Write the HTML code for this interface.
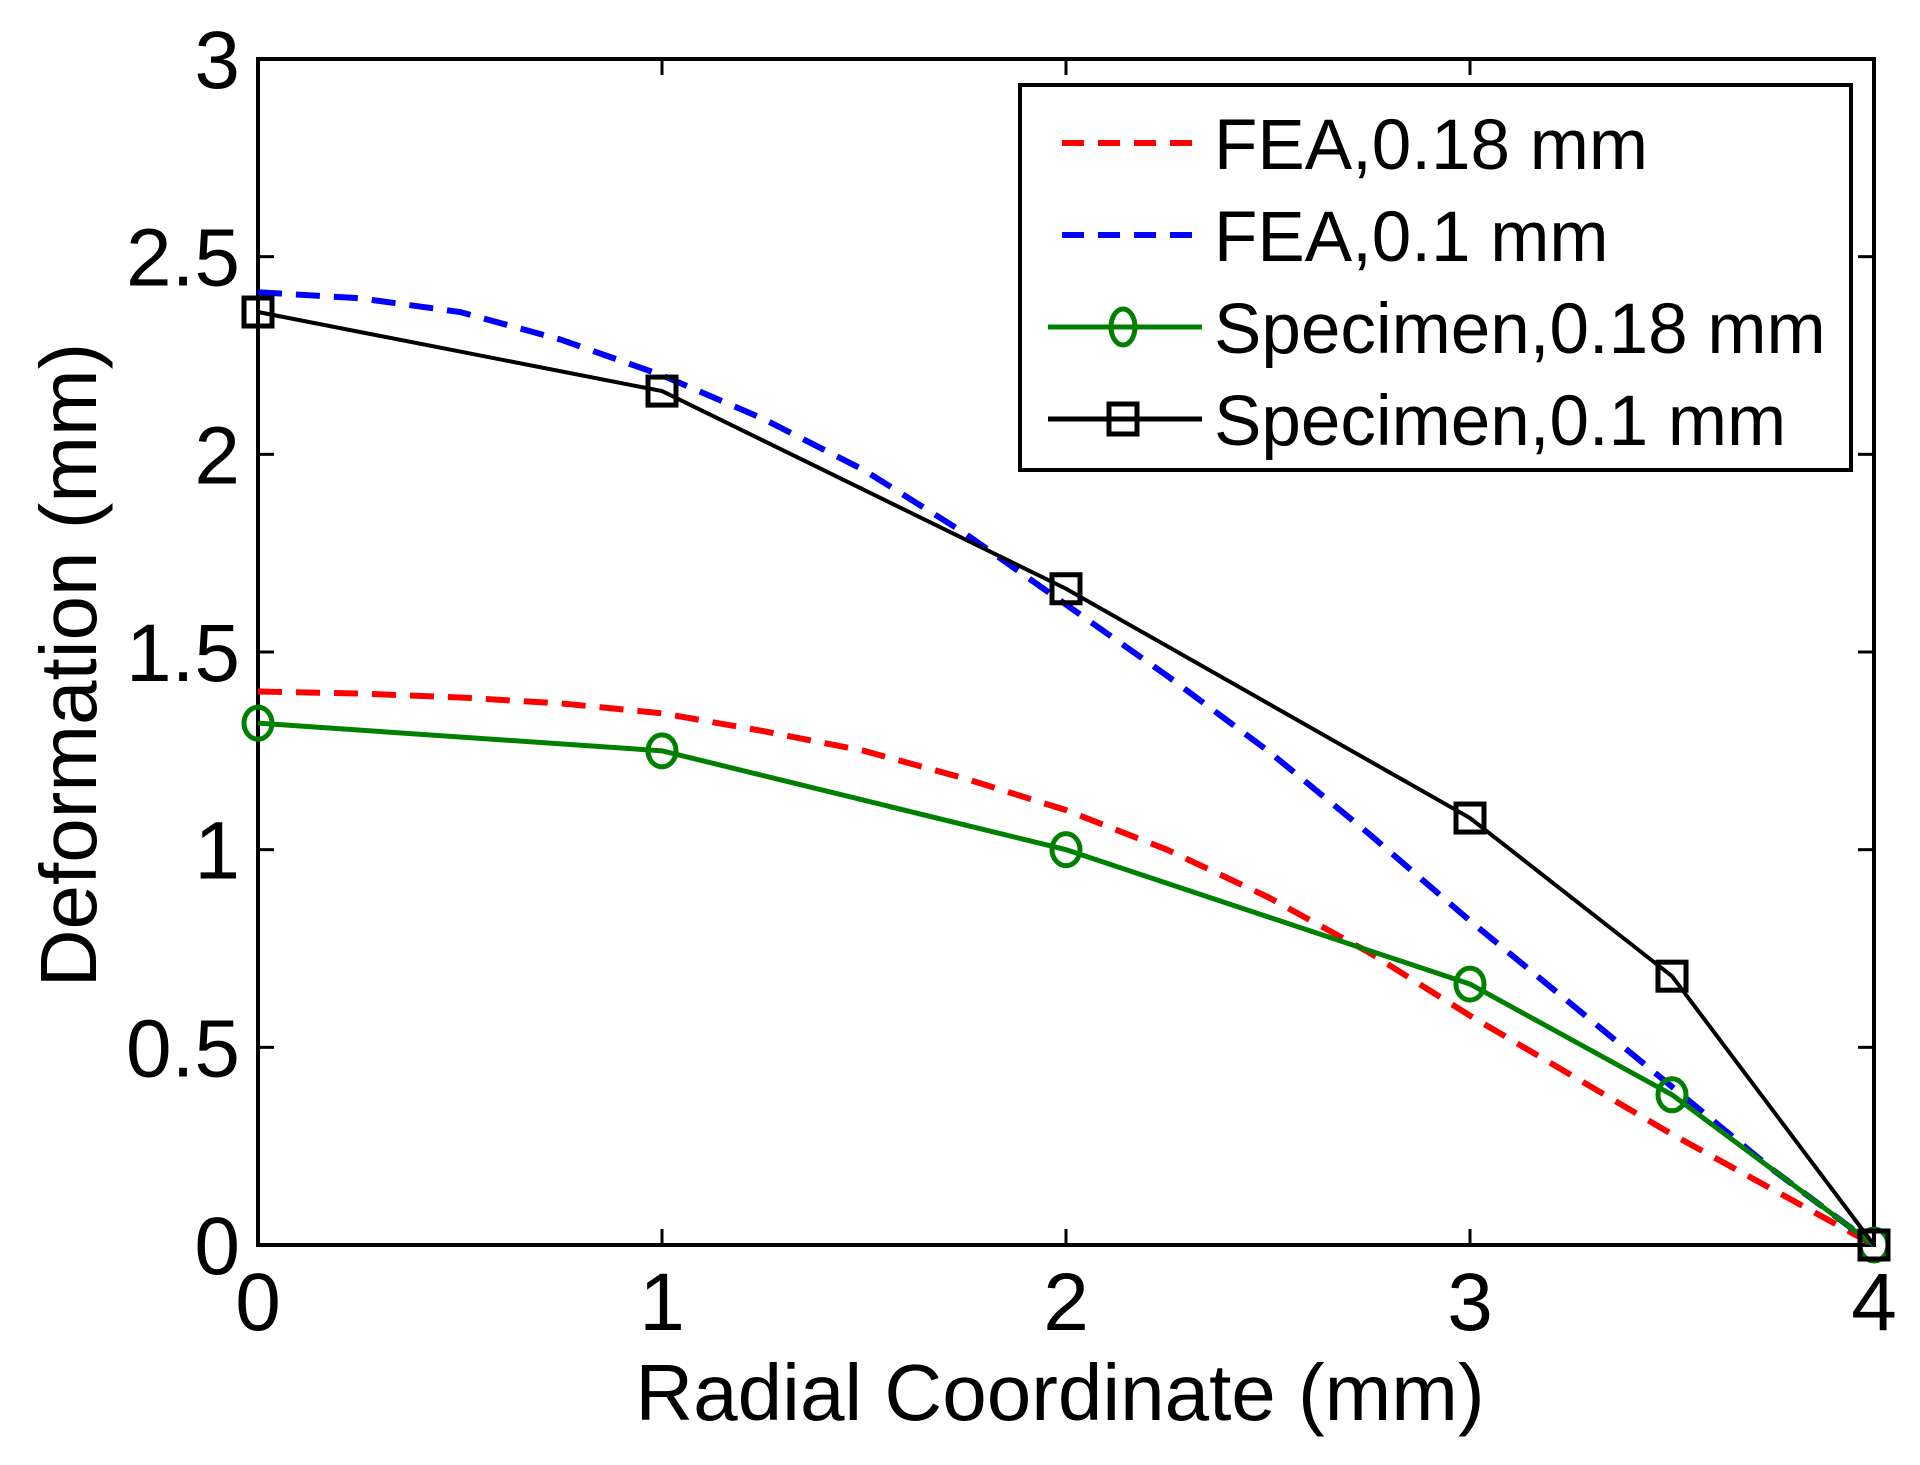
<!DOCTYPE html>
<html><head><meta charset="utf-8"><style>
html,body{margin:0;padding:0;background:#fff;}
svg text{font-family:"Liberation Sans",Arial,sans-serif;fill:#000;}
</style></head><body>
<svg id="chart" width="1920" height="1460" viewBox="0 0 1920 1460" xmlns="http://www.w3.org/2000/svg">
<rect width="1920" height="1460" fill="#fff"/>
<g id="axes"></g>
<g id="series"></g>
<g id="legend"></g>
<text transform="translate(96,665) rotate(-90)" font-size="80" text-anchor="middle">Deformation (mm)</text>
<text x="1060" y="1420" font-size="80" text-anchor="middle">Radial Coordinate (mm)</text>
</svg>
<script>
const xTicks=[0,1,2,3,4];
const yTicks=[0,0.5,1,1.5,2,2.5,3];
const yTickLabels=["0","0.5","1","1.5","2","2.5","3"];
const specX=[0,1,2,3,3.5,4];
const spec01=[2.36,2.16,1.66,1.08,0.68,0];
const spec018=[1.32,1.25,1.0,0.66,0.38,0];
const feaX=[0,0.25,0.5,0.75,1,1.25,1.5,1.75,2,2.25,2.5,2.75,3,3.25,3.5,3.75,4];
const fea01=[2.41,2.395,2.36,2.29,2.2,2.09,1.96,1.80,1.62,1.44,1.25,1.04,0.82,0.61,0.40,0.19,0];
const fea018=[1.40,1.395,1.385,1.37,1.345,1.30,1.25,1.18,1.10,1.00,0.88,0.74,0.58,0.43,0.28,0.14,0];
const L=258,R=1874,T=59,B=1245;
const sx=v=>L+(v-0)/(4-0)*(R-L);
const sy=v=>B-(v-0)/(3-0)*(B-T);
const NS="http://www.w3.org/2000/svg";
function mk(tag,attrs,parent){const e=document.createElementNS(NS,tag);for(const k in attrs)e.setAttribute(k,attrs[k]);parent.appendChild(e);return e;}
const axes=document.getElementById('axes');
const frame=mk('rect',{x:L,y:T,width:R-L,height:B-T,fill:'none',stroke:'#000','stroke-width':4},axes);


xTicks.forEach(v=>{
  const x=sx(v);
  const t1=mk('line',{x1:x,y1:B,x2:x,y2:B-16,stroke:'#000','stroke-width':3},axes);
  
  
  const t2=mk('line',{x1:x,y1:T,x2:x,y2:T+16,stroke:'#000','stroke-width':3},axes);
  
  
  const lb=mk('text',{x:x,y:B+85,'font-size':82,'text-anchor':'middle'},axes);
  lb.textContent=String(v);
  
  
});
yTicks.forEach((v,i)=>{
  const y=sy(v);
  const t1=mk('line',{x1:L,y1:y,x2:L+16,y2:y,stroke:'#000','stroke-width':3},axes);
  
  
  const t2=mk('line',{x1:R,y1:y,x2:R-16,y2:y,stroke:'#000','stroke-width':3},axes);
  
  
  const lb=mk('text',{x:L-18,y:y+29,'font-size':82,'text-anchor':'end'},axes);
  lb.textContent=yTickLabels[i];
  
  
});
const series=document.getElementById('series');
function pts(xs,ys){return xs.map((x,i)=>sx(x)+','+sy(ys[i])).join(' ');}
const f18=mk('polyline',{points:pts(feaX,fea018),fill:'none',stroke:'#ff0000','stroke-width':6,'stroke-dasharray':'24,14'},series);


const f01=mk('polyline',{points:pts(feaX,fea01),fill:'none',stroke:'#0000ff','stroke-width':6,'stroke-dasharray':'24,14'},series);


const s18=mk('polyline',{points:pts(specX,spec018),fill:'none',stroke:'#008000','stroke-width':5},series);


specX.forEach((x,i)=>{
  const c=mk('ellipse',{cx:sx(x),cy:sy(spec018[i]),rx:14,ry:16,fill:'none',stroke:'#008000','stroke-width':5},series);
  
  
});
const s01=mk('polyline',{points:pts(specX,spec01),fill:'none',stroke:'#000','stroke-width':4},series);


specX.forEach((x,i)=>{
  const r=mk('rect',{x:sx(x)-14,y:sy(spec01[i])-14,width:28,height:28,fill:'none',stroke:'#000','stroke-width':5},series);
  
  
});
const lg=document.getElementById('legend');
const box=mk('rect',{x:1020,y:85,width:831,height:385,fill:'#fff',stroke:'#000','stroke-width':4},lg);


const entries=[
 {t:'FEA,0.18 mm',c:'#ff0000',dash:true,m:null,y:143},
 {t:'FEA,0.1 mm',c:'#0000ff',dash:true,m:null,y:235},
 {t:'Specimen,0.18 mm',c:'#008000',dash:false,m:'o',y:327},
 {t:'Specimen,0.1 mm',c:'#000',dash:false,m:'s',y:419}
];
entries.forEach(e=>{
  const g=mk('g',{},lg);
  
  
  mk('line',{x1:e.dash?1062:1048,y1:e.y,x2:1202,y2:e.y,stroke:e.c,'stroke-width':e.dash?6:5,'stroke-dasharray':e.dash?'22,14':'none'},g);
  if(e.m==='o')mk('ellipse',{cx:1123,cy:e.y,rx:12,ry:18,fill:'none',stroke:e.c,'stroke-width':5},g);
  if(e.m==='s')mk('rect',{x:1109,y:e.y-15,width:28,height:30,fill:'none',stroke:e.c,'stroke-width':5},g);
  const tx=mk('text',{x:1214,y:e.y+26,'font-size':71},g);
  tx.textContent=e.t;
});
</script>
</body></html>
